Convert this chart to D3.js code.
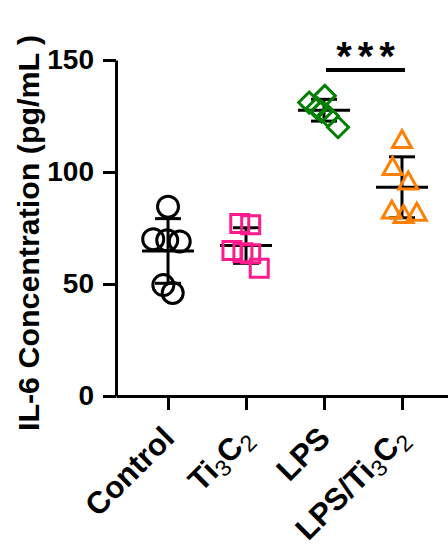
<!DOCTYPE html>
<html>
<head>
<meta charset="utf-8">
<script src="https://cdn.jsdelivr.net/npm/d3@7"></script>
<style>
  html, body { margin: 0; padding: 0; background: #fff; }
  svg { display: block; }
  text { font-family: Arial, "Liberation Sans", Helvetica, sans-serif; }
</style>
</head>
<body>
<svg id="chart" width="448" height="548"></svg>
<script>
// Groups shown on the x axis (subscripted parts marked separately)
const categories = ["Control", "Ti3C2", "LPS", "LPS/Ti3C2"];
const categoryLabels = [
  [{ t: "Control" }],
  [{ t: "Ti" }, { t: "3", sub: true }, { t: "C" }, { t: "2", sub: true }],
  [{ t: "LPS" }],
  [{ t: "LPS/Ti" }, { t: "3", sub: true }, { t: "C" }, { t: "2", sub: true }]
];

// IL-6 concentration (pg/mL), six replicates per group
const controlValues = [84.5, 70, 69.5, 69, 49.5, 46];
const ti3c2Values   = [77, 76.5, 65, 64, 63.5, 57];
const lpsValues     = [134, 131, 128.5, 127, 125, 120];
const lpsTi3c2Values = [114.5, 102.5, 96, 83, 81, 82];

// Horizontal scatter of replicates, in units of the category step
const controlJitter  = [0, -0.19, -0.01, 0.15, -0.06, 0.06];
const ti3c2Jitter    = [-0.08, 0.06, -0.18, -0.04, 0.06, 0.17];
const lpsJitter      = [0.01, -0.19, -0.09, -0.03, 0.05, 0.18];
const lpsTi3c2Jitter = [0, -0.12, 0.08, -0.13, 0.02, 0.19];

const yTicks = [0, 50, 100, 150];
const yTitle = "IL-6 Concentration (pg/mL )";
const significance = { from: "LPS", to: "LPS/Ti3C2", label: "***" };

const groups = [
  { key: categories[0], values: controlValues,  jitter: controlJitter,  color: "#000000", shape: "circle" },
  { key: categories[1], values: ti3c2Values,    jitter: ti3c2Jitter,    color: "#ff1a8c", shape: "square" },
  { key: categories[2], values: lpsValues,      jitter: lpsJitter,      color: "#008000", shape: "diamond" },
  { key: categories[3], values: lpsTi3c2Values, jitter: lpsTi3c2Jitter, color: "#ff8000", shape: "triangle" }
];

const svg = d3.select("#chart");
const font = 'Arial, "Liberation Sans", Helvetica, sans-serif';

const x = d3.scalePoint().domain(categories).range([116, 454]).padding(0.667);
const step = x.step();
const y = d3.scaleLinear().domain([0, 150]).range([396, 60]);

// Marker outlines centred on (0,0)
const shapes = {
  circle: () => { const p = d3.path(); p.arc(0, 0, 10.5, 0, 2 * Math.PI); p.closePath(); return p.toString(); },
  square: () => "M-9,-9H9V9H-9Z",
  diamond: () => "M0,-10.5L10.5,0L0,10.5L-10.5,0Z",
  triangle: () => "M0,-9L9.5,8L-9.5,8Z"
};

// Axes
const yAxis = d3.axisLeft(y).tickValues(yTicks).tickSize(13).tickSizeOuter(0).tickPadding(9);
const gy = svg.append("g").attr("transform", "translate(116,0)").call(yAxis);
gy.select(".domain").attr("stroke", "#000").attr("stroke-width", 3);
gy.selectAll(".tick line").attr("stroke", "#000").attr("stroke-width", 3);
gy.selectAll(".tick text")
  .attr("font-family", font).attr("font-size", 28).attr("font-weight", "bold").attr("fill", "#000");

const xAxis = d3.axisBottom(x).tickSize(14).tickSizeOuter(0).tickFormat("");
const gx = svg.append("g").attr("transform", "translate(0,396)").call(xAxis);
gx.select(".domain").attr("stroke", "#000").attr("stroke-width", 3);
gx.selectAll(".tick line").attr("stroke", "#000").attr("stroke-width", 3);

// Rotated category labels with subscripts
categories.forEach((c, i) => {
  const t = svg.append("text")
    .attr("transform", `translate(${x(c) + 8},440) rotate(-45)`)
    .attr("text-anchor", "end")
    .attr("font-family", font)
    .attr("font-size", 31)
    .attr("font-weight", "bold")
    .attr("fill", "#000");
  let shifted = false;
  categoryLabels[i].forEach(part => {
    const ts = t.append("tspan").text(part.t);
    if (part.sub) {
      ts.attr("font-size", 23).attr("font-weight", "normal").attr("dy", shifted ? 0 : 6);
      shifted = true;
    } else if (shifted) {
      ts.attr("dy", -6);
      shifted = false;
    }
  });
});

// Y axis title
svg.append("text")
  .attr("transform", "translate(39,233) rotate(-90)")
  .attr("text-anchor", "middle")
  .attr("font-family", font)
  .attr("font-size", 29)
  .attr("font-weight", "bold")
  .attr("fill", "#000")
  .attr("textLength", 396)
  .attr("lengthAdjust", "spacingAndGlyphs")
  .text(yTitle);

// Mean and SD bars, then individual replicates
groups.forEach(g => {
  const cx = x(g.key);
  const m = d3.mean(g.values);
  const sd = d3.deviation(g.values);
  const layer = svg.append("g");
  layer.append("line").attr("x1", cx).attr("x2", cx).attr("y1", y(m - sd)).attr("y2", y(m + sd))
    .attr("stroke", "#000").attr("stroke-width", 3);
  [m - sd, m + sd].forEach(v => {
    layer.append("line").attr("x1", cx - 13).attr("x2", cx + 13).attr("y1", y(v)).attr("y2", y(v))
      .attr("stroke", "#000").attr("stroke-width", 3);
  });
  layer.append("line").attr("x1", cx - 26).attr("x2", cx + 26).attr("y1", y(m)).attr("y2", y(m))
    .attr("stroke", "#000").attr("stroke-width", 3);

  svg.append("g").selectAll("path")
    .data(g.values.map((v, i) => ({ v, j: g.jitter[i] })))
    .join("path")
    .attr("d", shapes[g.shape]())
    .attr("transform", d => `translate(${cx + d.j * step},${y(d.v)})`)
    .attr("fill", "none")
    .attr("stroke", g.color)
    .attr("stroke-width", 3);
});

// Significance bracket
const sx1 = x(significance.from) + 2, sx2 = x(significance.to) + 3;
svg.append("line").attr("x1", sx1).attr("x2", sx2).attr("y1", 70).attr("y2", 70)
  .attr("stroke", "#000").attr("stroke-width", 4);
svg.append("text")
  .attr("x", (sx1 + sx2) / 2 + 3).attr("y", 70)
  .attr("text-anchor", "middle")
  .attr("font-family", font).attr("font-size", 40).attr("font-weight", "bold")
  .attr("letter-spacing", 6)
  .text(significance.label);
</script>
</body>
</html>
